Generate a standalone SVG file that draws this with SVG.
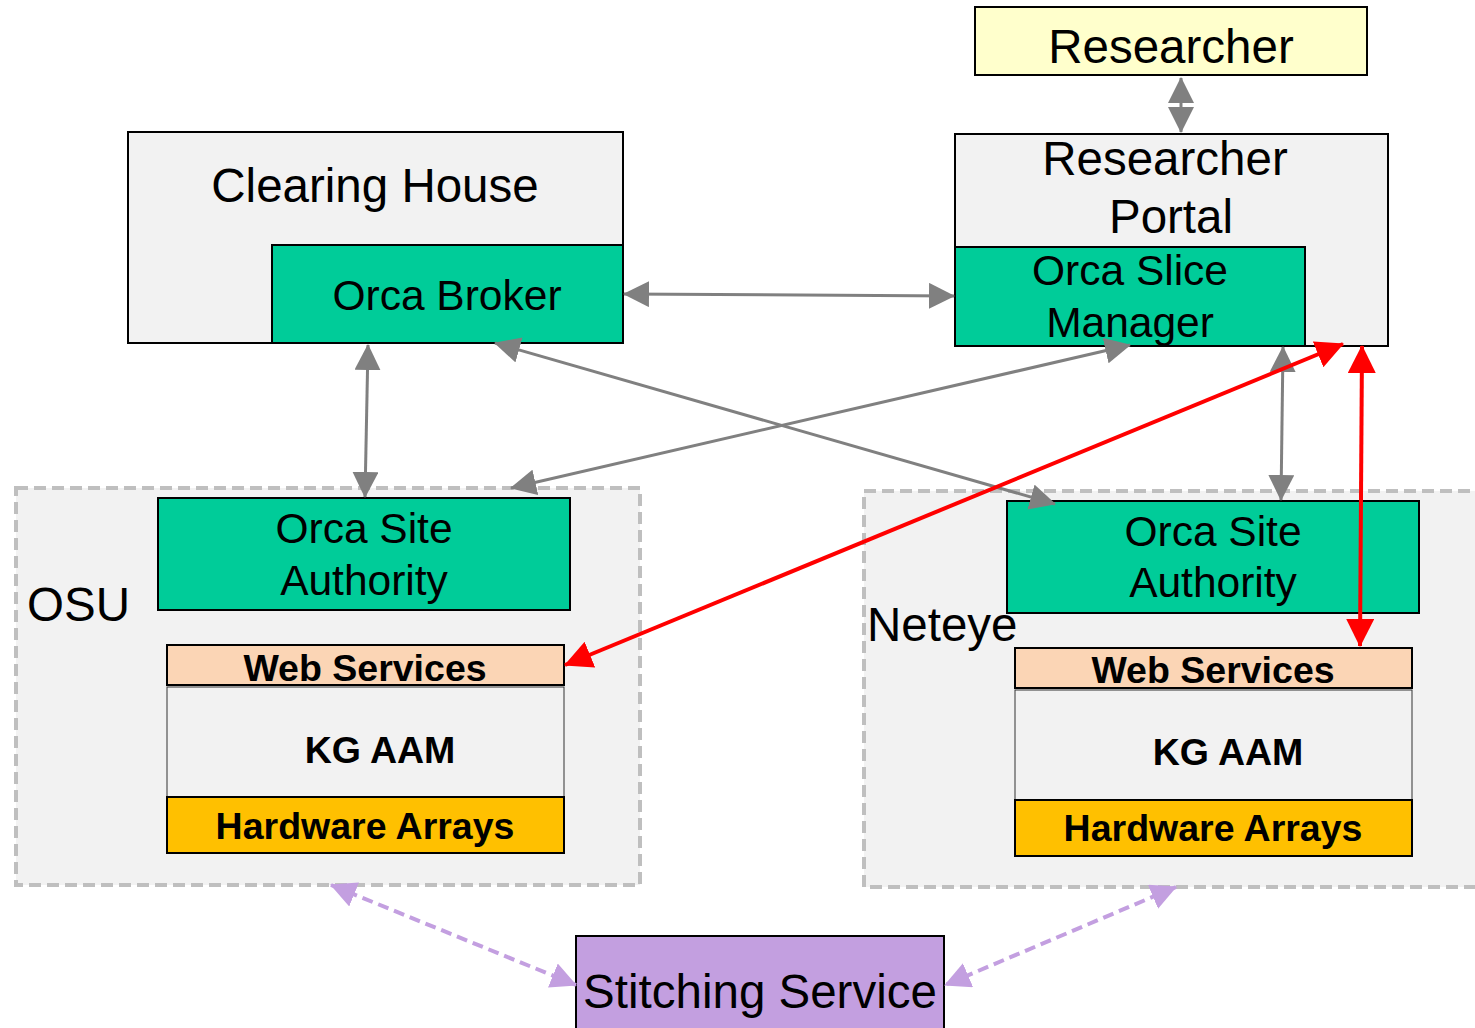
<svg xmlns="http://www.w3.org/2000/svg" width="1475" height="1028" viewBox="0 0 1475 1028">
<style>
text{font-family:"Liberation Sans",Arial,sans-serif;fill:#000;text-anchor:middle}
.big{font-size:47.5px}
.mid{font-size:42.5px}
.bold{font-size:37.5px;font-weight:bold}
.box{stroke:#000;stroke-width:2}
.green{fill:#00CC99}
.grey{fill:#F2F2F2}
.group{fill:#F2F2F2;stroke:#BFBFBF;stroke-width:4;stroke-dasharray:12 6}
.cg{stroke:#808080;stroke-width:3;fill:none;marker-start:url(#ag);marker-end:url(#ag)}
.cr{stroke:#FF0000;stroke-width:4;fill:none;marker-start:url(#ar);marker-end:url(#ar)}
.cp{stroke:#C39FE0;stroke-width:4;fill:none;stroke-dasharray:11 6;marker-start:url(#ap);marker-end:url(#ap)}
</style>
<defs>
<marker id="ag" markerUnits="userSpaceOnUse" markerWidth="26" markerHeight="26" viewBox="0 0 26 26" refX="25" refY="13" orient="auto-start-reverse"><path d="M0,0 L26,13 L0,26z" fill="#808080"/></marker>
<marker id="ar" markerUnits="userSpaceOnUse" markerWidth="28" markerHeight="28" viewBox="0 0 28 28" refX="27" refY="14" orient="auto-start-reverse"><path d="M0,0 L28,14 L0,28z" fill="#FF0000"/></marker>
<marker id="ap" markerUnits="userSpaceOnUse" markerWidth="26" markerHeight="26" viewBox="0 0 26 26" refX="25" refY="13" orient="auto-start-reverse"><path d="M0,0 L26,13 L0,26z" fill="#C39FE0"/></marker>
</defs>
<rect width="1475" height="1028" fill="#fff"/>

<g id="osu">
<rect class="group" x="16" y="488" width="624" height="397"/>
<text class="big" x="27" y="621" style="text-anchor:start">OSU</text>
</g>
<g id="neteye">
<rect class="group" x="864" y="491" width="630" height="396"/>
<text class="big" x="867" y="641" style="text-anchor:start">Neteye</text>
</g>

<g id="clearing-house">
<rect class="box grey" x="128" y="132" width="495" height="211"/>
<text class="big" x="375" y="202">Clearing House</text>
</g>
<g id="orca-broker">
<rect class="box green" x="272" y="245" width="351" height="98"/>
<text class="mid" x="447" y="310">Orca Broker</text>
</g>

<g id="researcher">
<rect class="box" fill="#FFFFCC" x="975" y="7" width="392" height="68"/>
<text class="big" x="1171" y="63">Researcher</text>
</g>
<g id="researcher-portal">
<rect class="box grey" x="955" y="134" width="433" height="212"/>
<text class="big" x="1165" y="175">Researcher</text>
<text class="big" x="1171" y="233">Portal</text>
</g>
<g id="orca-slice-manager">
<rect class="box green" x="955" y="247" width="350" height="99"/>
<text class="mid" x="1130" y="285">Orca Slice</text>
<text class="mid" x="1130" y="337">Manager</text>
</g>

<g id="osu-site-authority">
<rect class="box green" x="158" y="498" width="412" height="112"/>
<text class="mid" x="364" y="543">Orca Site</text>
<text class="mid" x="364" y="595">Authority</text>
</g>
<g id="osu-web-services">
<rect class="box" fill="#FBD5B5" x="167" y="645" width="397" height="40"/>
<text class="bold" x="365" y="681">Web Services</text>
</g>
<g id="osu-kg-aam">
<rect fill="#F2F2F2" stroke="#333" stroke-width="1" x="167" y="687" width="397" height="110"/>
<text class="bold" x="380" y="763">KG AAM</text>
</g>
<g id="osu-hardware">
<rect class="box" fill="#FFC000" x="167" y="797" width="397" height="56"/>
<text class="bold" x="365" y="839">Hardware Arrays</text>
</g>

<g id="neteye-site-authority">
<rect class="box green" x="1007" y="501" width="412" height="112"/>
<text class="mid" x="1213" y="546">Orca Site</text>
<text class="mid" x="1213" y="597">Authority</text>
</g>
<g id="neteye-web-services">
<rect class="box" fill="#FBD5B5" x="1015" y="648" width="397" height="40"/>
<text class="bold" x="1213" y="683">Web Services</text>
</g>
<g id="neteye-kg-aam">
<rect fill="#F2F2F2" stroke="#333" stroke-width="1" x="1015" y="690" width="397" height="110"/>
<text class="bold" x="1228" y="765">KG AAM</text>
</g>
<g id="neteye-hardware">
<rect class="box" fill="#FFC000" x="1015" y="800" width="397" height="56"/>
<text class="bold" x="1213" y="841">Hardware Arrays</text>
</g>

<g id="stitching-service">
<rect class="box" fill="#C39FE0" x="576" y="936" width="368" height="100"/>
<text class="big" x="760" y="1008">Stitching Service</text>
</g>

<g id="connectors">
<line class="cg" x1="1181" y1="78" x2="1181" y2="132"/>
<line class="cg" x1="624" y1="294" x2="954" y2="296"/>
<line class="cg" x1="368" y1="345" x2="365" y2="497"/>
<line class="cg" x1="495" y1="343" x2="1055" y2="504"/>
<line class="cg" x1="1130" y1="345" x2="511" y2="488"/>
<line class="cg" x1="1283" y1="347" x2="1281" y2="500"/>
<line class="cr" x1="1343" y1="344" x2="565" y2="665"/>
<line class="cr" x1="1362" y1="346" x2="1360" y2="646"/>
<line class="cp" x1="331" y1="885" x2="576" y2="985"/>
<line class="cp" x1="1176" y1="887" x2="945" y2="985"/>
</g>
</svg>
